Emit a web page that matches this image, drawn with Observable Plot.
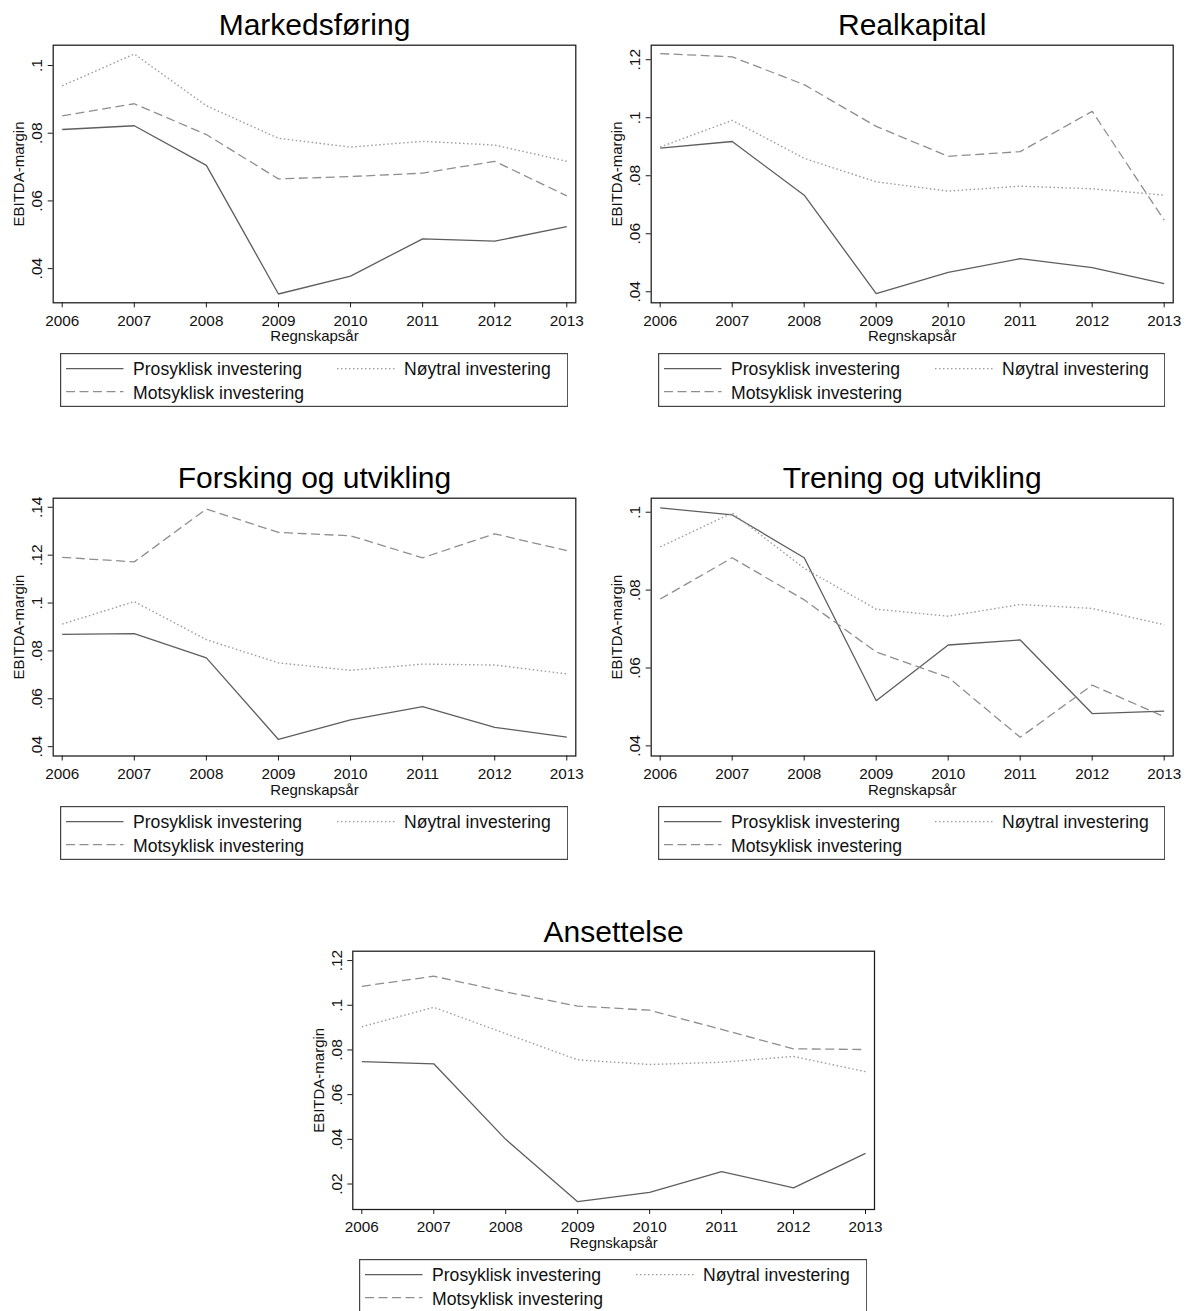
<!DOCTYPE html>
<html><head><meta charset="utf-8">
<script src="https://cdn.jsdelivr.net/npm/d3@7"></script>
<script src="https://cdn.jsdelivr.net/npm/@observablehq/plot@0.6"></script>
<style>
body{margin:0;background:#fff;font-family:"Liberation Sans",Arial,Helvetica,sans-serif;}
#root{position:relative;width:1189px;height:1311px;overflow:hidden;background:#fff;}
</style></head><body><div id="root"></div>
<script>
// ---- data ----
const years = [2006, 2007, 2008, 2009, 2010, 2011, 2012, 2013];
const seriesNames = ["Prosyklisk investering", "Nøytral investering", "Motsyklisk investering"];
const panelTitles = ["Markedsføring", "Realkapital", "Forsking og utvikling", "Trening og utvikling", "Ansettelse"];
const xLabel = "Regnskapsår";
const yLabel = "EBITDA-margin";

const markedsforingPro = [0.0811, 0.0822, 0.0705, 0.0325, 0.0378, 0.0488, 0.0481, 0.0524];
const markedsforingNoy = [0.0940, 0.1034, 0.0881, 0.0785, 0.0759, 0.0776, 0.0765, 0.0717];
const markedsforingMot = [0.0851, 0.0887, 0.0796, 0.0665, 0.0672, 0.0682, 0.0717, 0.0615];

const realkapitalPro = [0.0895, 0.0918, 0.0733, 0.0394, 0.0467, 0.0514, 0.0483, 0.0428];
const realkapitalNoy = [0.0899, 0.0991, 0.0860, 0.0779, 0.0747, 0.0764, 0.0755, 0.0733];
const realkapitalMot = [0.1221, 0.1210, 0.1114, 0.0970, 0.0867, 0.0883, 0.1022, 0.0647];

const forskingPro = [0.0869, 0.0872, 0.0771, 0.0430, 0.0512, 0.0567, 0.0481, 0.0440];
const forskingNoy = [0.0912, 0.1006, 0.0847, 0.0750, 0.0719, 0.0745, 0.0741, 0.0704];
const forskingMot = [0.1191, 0.1172, 0.1393, 0.1295, 0.1281, 0.1189, 0.1289, 0.1219];

const treningPro = [0.1011, 0.0993, 0.0883, 0.0516, 0.0659, 0.0672, 0.0483, 0.0489];
const treningNoy = [0.0911, 0.0998, 0.0856, 0.0751, 0.0733, 0.0763, 0.0753, 0.0711];
const treningMot = [0.0777, 0.0883, 0.0775, 0.0641, 0.0576, 0.0422, 0.0556, 0.0475];

const ansettelsePro = [0.0748, 0.0738, 0.0400, 0.0121, 0.0163, 0.0256, 0.0183, 0.0337];
const ansettelseNoy = [0.0904, 0.0991, 0.0873, 0.0756, 0.0735, 0.0745, 0.0771, 0.0703];
const ansettelseMot = [0.1085, 0.1130, 0.1060, 0.0996, 0.0978, 0.0892, 0.0805, 0.0802];

const markedsforingTicks = [0.04, 0.06, 0.08, 0.1];
const realkapitalTicks = [0.04, 0.06, 0.08, 0.1, 0.12];
const forskingTicks = [0.04, 0.06, 0.08, 0.1, 0.12, 0.14];
const treningTicks = [0.04, 0.06, 0.08, 0.1];
const ansettelseTicks = [0.02, 0.04, 0.06, 0.08, 0.1, 0.12];

// ---- styles / layout ----
const lineStyles = [
  {stroke: "#5e5e5e", dash: null, width: 1.3},
  {stroke: "#9c9c9c", dash: "1.5,2.5", width: 1.4},
  {stroke: "#8e8e8e", dash: "9,4.5", width: 1.3}
];
const FONT = '"Liberation Sans", Arial, Helvetica, sans-serif';

const panels = [
  {title: panelTitles[0], series: [markedsforingPro, markedsforingNoy, markedsforingMot], ticks: markedsforingTicks,
   yDomain: [0.0299, 0.1060], svgX: 0, svgY: 0, W: 592, frame: [52.7, 575.3, 44.7, 302.3], legend: [60, 352.7, 508.3], titleDy: -10.4},
  {title: panelTitles[1], series: [realkapitalPro, realkapitalNoy, realkapitalMot], ticks: realkapitalTicks,
   yDomain: [0.0362, 0.1250], svgX: 595, svgY: 0, W: 594, frame: [650.7, 1172.7, 44.7, 302.3], legend: [658, 352.7, 507.3], titleDy: -10.4},
  {title: panelTitles[2], series: [forskingPro, forskingNoy, forskingMot], ticks: forskingTicks,
   yDomain: [0.0361, 0.1438], svgX: 0, svgY: 453, W: 592, frame: [52.7, 575.3, 497.7, 755.5], legend: [60, 805.7, 508.3], titleDy: -10.4},
  {title: panelTitles[3], series: [treningPro, treningNoy, treningMot], ticks: treningTicks,
   yDomain: [0.0374, 0.1036], svgX: 595, svgY: 453, W: 594, frame: [650.7, 1172.7, 497.7, 755.5], legend: [658, 805.7, 507.3], titleDy: -10.4},
  {title: panelTitles[4], series: [ansettelsePro, ansettelseNoy, ansettelseMot], ticks: ansettelseTicks,
   yDomain: [0.0086, 0.1242], svgX: 298, svgY: 906, W: 594, frame: [352.3, 874, 950.7, 1209], legend: [359, 1259, 508.3], titleDy: -9.5}
];

const root = document.getElementById("root");
const fmtY = d => String(+d.toFixed(2)).replace(/^0\./, ".");

panels.forEach(p => {
  const H = 350;
  const data = [];
  p.series.forEach((vals, si) => vals.forEach((v, i) => data.push({year: years[i], value: v, series: seriesNames[si]})));
  const [fl, fr, ft, fb] = p.frame;
  const chart = Plot.plot({
    width: p.W, height: H,
    marginLeft: fl - p.svgX, marginRight: p.W - (fr - p.svgX),
    marginTop: ft - p.svgY, marginBottom: H - (fb - p.svgY),
    insetLeft: 9, insetRight: 9,
    x: {domain: [years[0], years[years.length - 1]]},
    y: {domain: p.yDomain},
    style: {fontFamily: FONT, fontSize: "15px", color: "#111", background: "transparent", overflow: "visible"},
    marks: [
      ...seriesNames.map((name, si) => Plot.line(data.filter(d => d.series === name), {
        x: "year", y: "value", stroke: lineStyles[si].stroke, strokeWidth: lineStyles[si].width,
        strokeDasharray: lineStyles[si].dash, strokeLinecap: "butt", strokeLinejoin: "miter"
      })),
      Plot.frame({stroke: "#1a1a1a", strokeWidth: 1.25}),
      Plot.axisX({ticks: years, tickFormat: d => String(d), tickSize: 5, tickPadding: 7, fontSize: 15.3, label: null, stroke: "#1a1a1a"}),
      Plot.axisY({ticks: p.ticks, tickFormat: fmtY, tickRotate: -90, tickSize: 5, tickPadding: 6, fontSize: 15.5, label: null, stroke: "#1a1a1a"}),
      Plot.text([p.title], {frameAnchor: "top", dy: p.titleDy, lineAnchor: "bottom", textAnchor: "middle", fontSize: 30, fill: "#000"}),
      Plot.text([xLabel], {frameAnchor: "bottom", dy: 38.5, lineAnchor: "bottom", textAnchor: "middle", fontSize: 15}),
      Plot.text([yLabel], {frameAnchor: "left", dx: -29, rotate: -90, lineAnchor: "bottom", textAnchor: "middle", fontSize: 15})
    ]
  });
  chart.style.position = "absolute";
  chart.style.left = p.svgX + "px";
  chart.style.top = p.svgY + "px";
  root.appendChild(chart);

  // legend box below the plot
  const [lx, ly, lw] = p.legend;
  const lh = 54;
  const leg = d3.create("svg").attr("width", lw).attr("height", lh)
    .style("position", "absolute").style("left", lx + "px").style("top", ly + "px");
  leg.append("rect").attr("x", 0.6).attr("y", 0.6).attr("width", lw - 1.2).attr("height", lh - 1.2)
    .attr("fill", "#fff").attr("stroke", "#444").attr("stroke-width", 1.2);
  const colSample = [6, 277], colText = [73, 344], rowLine = [15.6, 38.6], rowBase = [22.3, 46];
  seriesNames.forEach((name, si) => {
    const c = si % 2, r = Math.floor(si / 2);
    leg.append("line").attr("x1", colSample[c]).attr("x2", colSample[c] + 57.5)
      .attr("y1", rowLine[r]).attr("y2", rowLine[r])
      .attr("stroke", lineStyles[si].stroke).attr("stroke-width", lineStyles[si].width)
      .attr("stroke-dasharray", lineStyles[si].dash);
    leg.append("text").attr("x", colText[c]).attr("y", rowBase[r])
      .attr("font-family", FONT).attr("font-size", 17.6).attr("fill", "#111").text(name);
  });
  root.appendChild(leg.node());
});
</script></body></html>
